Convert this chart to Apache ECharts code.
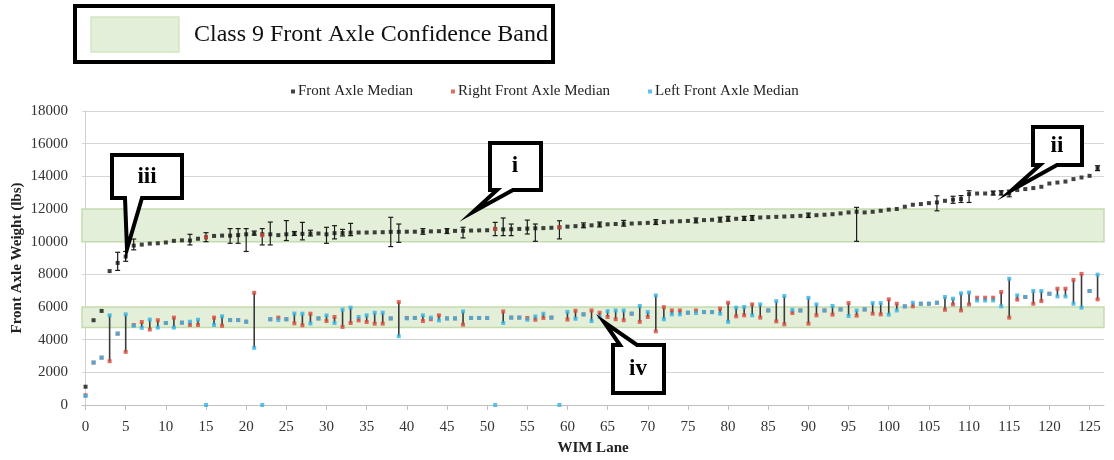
<!DOCTYPE html>
<html>
<head>
<meta charset="utf-8">
<script src="https://cdn.jsdelivr.net/npm/echarts@6/dist/echarts.min.js"></script>
<style>
html,body{margin:0;padding:0;background:#fff;}
#chart{width:1114px;height:460px;}
</style>
</head>
<body>
<div id="chart"></div>
<script>
// ---- data (lane index = array position, lanes 0..126) ----
const frontMedian = [
 1120,5190,5760,8200,8700,9090,9760,9820,9880,9900,
 9950,10050,10080,10070,10180,10270,10350,10370,10370,10400,
 10450,10500,10450,10450,10400,10450,10500,10480,10500,10500,
 10450,10520,10530,10550,10560,10560,10570,10580,10600,10600,
 10610,10610,10620,10630,10640,10650,10660,10670,10680,10690,
 10700,10780,10750,10760,10780,10800,10820,10830,10850,10880,
 10920,10950,10970,11000,11040,11060,11080,11100,11110,11130,
 11150,11180,11200,11230,11250,11270,11290,11320,11340,11360,
 11380,11400,11420,11450,11480,11500,11520,11540,11560,11580,
 11600,11620,11650,11680,11730,11790,11830,11790,11830,11890,
 11960,12000,12140,12260,12300,12360,12400,12500,12570,12610,
 12910,12950,12950,12980,12980,12950,13160,13220,13280,13360,
 13560,13620,13680,13830,13930,14030,14500
];
const frontLow = [
 null,null,null,null,8240,8800,9500,null,null,null,
 null,null,null,9800,null,10000,null,null,9900,9900,
 9400,10400,9800,9800,null,10070,10380,10110,10350,null,
 9900,10170,10350,10370,null,null,null,null,9700,9960,
 null,null,10450,null,null,10500,null,10230,null,null,
 null,10370,10370,10370,null,10470,10020,null,null,10170,
 null,null,10850,null,10900,null,null,10950,null,null,
 null,11050,null,null,null,null,11150,null,null,11200,
 11250,null,11300,11300,null,null,null,null,null,null,
 11480,null,null,null,null,null,10020,null,null,null,
 null,null,null,null,null,null,11890,null,12350,12400,
 12400,null,null,12850,12850,12750,null,null,null,null,
 null,null,null,null,null,null,14350
];
const frontHigh = [
 null,null,null,null,9350,9400,10160,null,null,null,
 null,null,null,10450,null,10550,null,null,10800,10800,
 10800,10650,10800,11200,null,11290,10620,11180,10700,null,
 10880,10980,10750,11120,null,null,null,null,11490,11080,
 null,null,10800,null,null,10800,null,10880,null,null,
 null,11180,11450,11080,null,11320,11080,null,null,11280,
 null,null,11150,null,11200,null,null,11300,null,null,
 null,11350,null,null,null,null,11450,null,null,11500,
 11550,null,11550,11600,null,null,null,null,null,null,
 11750,null,null,null,null,null,12100,null,null,null,
 null,null,null,null,null,null,12810,null,12780,12820,
 13120,null,null,13100,13120,13150,null,null,null,null,
 null,null,null,null,null,null,14650
];
const rightMedian = [
 600,2600,2900,2680,4370,3250,4900,5080,4620,5190,
 5020,5350,5040,4900,4900,10270,5350,4850,5200,5200,
 5100,6870,10400,5250,5350,5250,5000,4880,5590,5300,
 5140,5390,4780,5020,5180,5080,4980,4980,5300,6300,
 5330,5330,5140,5250,5490,5300,5300,4920,5330,5330,
 5330,10780,5730,5350,5350,5330,5220,5330,5350,10880,
 5230,5770,5550,5790,5650,5390,5250,5190,5590,5090,
 5390,4510,5990,5790,5790,5650,5790,5690,5690,5900,
 6260,5430,5490,6160,5350,5790,5120,4940,5630,5790,
 4980,5490,5790,5530,5850,6240,5470,5850,5590,5550,
 6470,6200,6040,6040,6200,6200,6260,5830,6160,5790,
 6160,6570,6570,6570,6920,5350,6450,6610,6200,6360,
 6810,7120,7120,7660,8030,6980,6470
];
const leftMedian = [
 550,2600,2900,5490,4370,5550,4850,4720,5230,4740,
 5020,4740,5040,5100,5220,0,4900,5430,5200,5200,
 5100,3500,0,5250,5200,5250,5600,5590,4990,5300,
 5480,5020,5840,5960,5390,5490,5650,5650,5300,4210,
 5300,5330,5490,5350,5180,5300,5300,5730,5330,5330,
 5330,0,5020,5350,5350,5220,5420,5590,5350,0,
 5700,5280,5550,5140,5390,5750,5790,5790,5590,6060,
 5690,6710,5250,5550,5550,5650,5630,5690,5690,5590,
 5090,5960,6000,5490,6160,5790,6360,6670,5830,5790,
 6560,6160,5790,6060,5850,5450,5790,5850,6240,6240,
 5530,5790,6040,6260,6200,6200,6260,6610,6510,6840,
 6890,6400,6400,6400,6040,7730,6710,6610,6980,6980,
 6810,6650,6650,6200,5960,6980,7980
];
const bands = [[10000, 12000], [4750, 6000]];
const xTicks = [0,5,10,15,20,25,30,35,40,45,50,55,60,65,70,75,80,85,90,95,100,105,110,115,120,125];
const seriesNames = ['Front Axle Median', 'Right Front Axle Median', 'Left Front Axle Median'];
const bandLabel = 'Class 9 Front Axle Confidence Band';
const callouts = ['i', 'ii', 'iii', 'iv'];

// ---- build ----
const serif = '"Liberation Serif","Times New Roman",serif';
const pts = arr => arr.map((v, i) => [i, v]);
const errData = [];
frontMedian.forEach((v, i) => {
  if (frontLow[i] != null && frontHigh[i] != null) errData.push([i, frontLow[i], frontHigh[i]]);
});
const connData = [];
rightMedian.forEach((r, i) => {
  const l = leftMedian[i];
  if (l > 0 && r < 9000 && Math.abs(r - l) > 100) connData.push([i, r, l]);
});

function vbar(caps, color, width) {
  return function (params, api) {
    const x = api.value(0);
    const a = api.coord([x, api.value(1)]);
    const b = api.coord([x, api.value(2)]);
    const st = { stroke: color, lineWidth: width };
    const ch = [{ type: 'line', shape: { x1: a[0], y1: a[1], x2: b[0], y2: b[1] }, style: st }];
    if (caps) {
      const w = 2.5;
      ch.push({ type: 'line', shape: { x1: a[0] - w, y1: a[1], x2: a[0] + w, y2: a[1] }, style: st });
      ch.push({ type: 'line', shape: { x1: b[0] - w, y1: b[1], x2: b[0] + w, y2: b[1] }, style: st });
    }
    return { type: 'group', children: ch };
  };
}

const chart = echarts.init(document.getElementById('chart'), null, { renderer: 'canvas' });

function bubble(x1, y1, x2, y2, b1, b2, tx, ty, top) {
  let p;
  if (!top) p = [[x1,y1],[x2,y1],[x2,y2],[b2,y2],[tx,ty],[b1,y2],[x1,y2]];
  else p = [[x1,y1],[b1,y1],[tx,ty],[b2,y1],[x2,y1],[x2,y2],[x1,y2]];
  return { type: 'polygon', shape: { points: p }, style: { fill: '#fff', stroke: '#000', lineWidth: 4, lineJoin: 'miter' }, z: 100 };
}
function ctext(txt, x, y) {
  return { type: 'text', x: x, y: y, style: { text: txt, font: 'bold 23px ' + serif, fill: '#000', align: 'center', verticalAlign: 'middle' }, z: 101 };
}

const option = {
  animation: false,
  backgroundColor: '#fff',
  grid: { left: 82, right: 10, top: 111, bottom: 55, outerBoundsMode: 'none', containLabel: false },
  legend: {
    data: seriesNames.map(n => ({ name: n, icon: 'rect' })),
    left: 286, top: 79,
    itemWidth: 4, itemHeight: 4, itemGap: 38,
    textStyle: { fontFamily: serif, fontSize: 15, color: '#222', padding: [0, 0, 0, -2] }
  },
  xAxis: {
    type: 'value', min: -0.44, max: 126.8,
    name: 'WIM Lane', nameLocation: 'middle', nameGap: 36, nameMoveOverlap: false,
    nameTextStyle: { fontFamily: serif, fontSize: 15, fontWeight: 'bold', color: '#222' },
    axisLine: { show: true, lineStyle: { color: '#bfbfbf', width: 1 } },
    axisTick: { show: true, length: 5, lineStyle: { color: '#bfbfbf' }, customValues: xTicks },
    axisLabel: { fontFamily: serif, fontSize: 15, color: '#333', margin: 15, customValues: xTicks },
    splitLine: { show: false }
  },
  yAxis: {
    type: 'value', min: 0, max: 18000, interval: 2000,
    name: 'Front Axle Weight (lbs)', nameLocation: 'middle', nameGap: 57, nameRotate: 90, nameMoveOverlap: false,
    nameTextStyle: { fontFamily: serif, fontSize: 15, fontWeight: 'bold', color: '#222' },
    axisLine: { show: true, lineStyle: { color: '#d0d0d0' } },
    axisTick: { show: false },
    axisLabel: { fontFamily: serif, fontSize: 15, color: '#333', margin: 14, formatter: v => String(v) },
    splitLine: { lineStyle: { color: '#d6d6d6', width: 1 } }
  },
  series: [
    {
      type: 'custom', name: 'conn', data: connData, renderItem: vbar(false, '#3a3a3a', 1.6),
      encode: { x: 0, y: [1, 2] }, z: 3, silent: true,
      markArea: {
        silent: true,
        itemStyle: { color: '#e3efd8', borderColor: '#c3dbad', borderWidth: 1.5 },
        data: bands.map(b => [{ yAxis: b[0] }, { yAxis: b[1] }])
      }
    },
    { type: 'custom', name: 'err', data: errData, renderItem: vbar(true, '#1a1a1a', 1.2), encode: { x: 0, y: [1, 2] }, z: 4, silent: true },
    { type: 'scatter', name: seriesNames[0], data: pts(frontMedian), symbol: 'rect', symbolSize: 4, itemStyle: { color: '#111' }, z: 5 },
    { type: 'scatter', name: seriesNames[1], data: pts(rightMedian), symbol: 'rect', symbolSize: 4, itemStyle: { color: '#d8493c' }, z: 6 },
    { type: 'scatter', name: seriesNames[2], data: pts(leftMedian), symbol: 'rect', symbolSize: 4, itemStyle: { color: '#35b3e6' }, z: 7 }
  ],
  graphic: [
    { type: 'rect', shape: { x: 75, y: 6, width: 478, height: 56 }, style: { fill: '#fff', stroke: '#000', lineWidth: 4 }, z: 100 },
    { type: 'rect', shape: { x: 91, y: 17, width: 88, height: 35 }, style: { fill: '#e3efd8', stroke: '#d4e6c4', lineWidth: 1.5 }, z: 101 },
    { type: 'text', x: 194, y: 35, style: { text: bandLabel, font: '24px ' + serif, fill: '#111', verticalAlign: 'middle' }, z: 101 },
    bubble(490, 143, 541, 190, 497, 513, 473, 212, false), ctext(callouts[0], 515, 166),
    bubble(1033, 127, 1082, 165, 1040, 1057, 1012, 190, false), ctext(callouts[1], 1057, 146),
    bubble(112, 155, 182, 198, 125, 142, 127, 249, false), ctext(callouts[2], 147, 177),
    bubble(613, 345, 664, 393, 620, 637, 604, 322, true), ctext(callouts[3], 638, 369)
  ]
};
chart.setOption(option);
</script>
</body>
</html>
